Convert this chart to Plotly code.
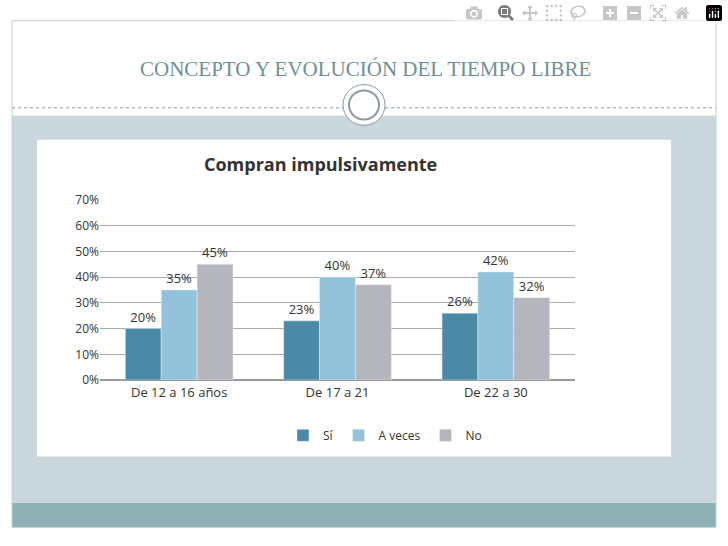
import plotly.graph_objects as go

categories = ["De 12 a 16 años", "De 17 a 21", "De 22 a 30"]
si = [0.20, 0.23, 0.26]
a_veces = [0.35, 0.40, 0.42]
no = [0.45, 0.37, 0.32]
series = [("Sí", si, "#4a8aa6"), ("A veces", a_veces, "#92c3da"), ("No", no, "#b5b5bc")]

W, H = 728, 546
fig = go.Figure()
for name, vals, col in series:
    fig.add_trace(go.Bar(x=categories, y=vals, name=name, marker_color=col,
                         text=[f"{round(v*100)}%" for v in vals], textposition="outside",
                         textfont=dict(size=13, color="#333"), cliponaxis=False))

def px(x): return x / W
def py(y): return 1 - y / H

shapes = [
    dict(type="rect", xref="paper", yref="paper", x0=px(12), x1=px(716), y0=py(110), y1=py(535),
         fillcolor="#c9d6db", line_width=0, layer="below"),
    dict(type="rect", xref="paper", yref="paper", x0=px(12), x1=px(716), y0=py(510), y1=py(535),
         fillcolor="#8fb0b4", line_width=0, layer="below"),
    dict(type="rect", xref="paper", yref="paper", x0=px(37), x1=px(671), y0=py(135), y1=py(462),
         fillcolor="white", line_width=0, layer="below"),
    dict(type="rect", xref="paper", yref="paper", x0=px(12), x1=px(716), y0=py(12), y1=py(535),
         line=dict(color="#c8d0d2", width=1)),
    dict(type="line", xref="paper", yref="paper", x0=px(12), x1=px(345), y0=py(102), y1=py(102),
         line=dict(color="#8a9a9e", width=1, dash="dot")),
    dict(type="line", xref="paper", yref="paper", x0=px(385), x1=px(716), y0=py(102), y1=py(102),
         line=dict(color="#8a9a9e", width=1, dash="dot")),
    dict(type="circle", xref="paper", yref="paper", x0=px(343), x1=px(385), y0=py(78), y1=py(120),
         fillcolor="white", line=dict(color="#8a9a9e", width=1)),
    dict(type="circle", xref="paper", yref="paper", x0=px(349), x1=px(379), y0=py(84), y1=py(114),
         fillcolor="white", line=dict(color="#8a9a9e", width=2)),
]

fig.update_layout(
    width=W, height=H, margin=dict(l=0, r=0, t=0, b=0),
    paper_bgcolor="white", plot_bgcolor="white",
    shapes=shapes, barmode="group", bargap=0.32, bargroupgap=0.0,
    font=dict(family="Open Sans, sans-serif", color="#333"),
    xaxis=dict(domain=[px(100), px(575)], showline=True, linecolor="#999", tickfont=dict(size=13),
               ticks=""),
    yaxis=dict(domain=[py(383), py(197)], range=[0, 0.7], dtick=0.1, tickformat=".0%",
               gridcolor="#aaa", showline=False, zeroline=True, zerolinecolor="#999",
               tickfont=dict(size=12)),
    legend=dict(orientation="h", x=px(385), xanchor="center", y=py(440), yanchor="middle",
                font=dict(size=12), bgcolor="rgba(0,0,0,0)"),
    annotations=[
        dict(text="CONCEPTO Y EVOLUCIÓN DEL TIEMPO LIBRE", xref="paper", yref="paper",
             x=px(365), y=py(62), yanchor="middle", showarrow=False,
             font=dict(family="Liberation Serif, serif", size=21, color="#6e8f99")),
        dict(text="<b>Compran impulsivamente</b>", xref="paper", yref="paper",
             x=px(320), y=py(160), yanchor="middle", showarrow=False, font=dict(size=18, color="#333")),
    ],
)
fig.write_html("out.html")
with open("out.html", encoding="utf-8") as f:
    html = f.read()
html = html.replace("<body>", '<body style="margin:0;padding:0;overflow:hidden">', 1)
html = html.replace("<head>", '<head><style>html,body{margin:0;padding:0;overflow:hidden}</style>', 1)
with open("out.html", "w", encoding="utf-8") as f:
    f.write(html)
